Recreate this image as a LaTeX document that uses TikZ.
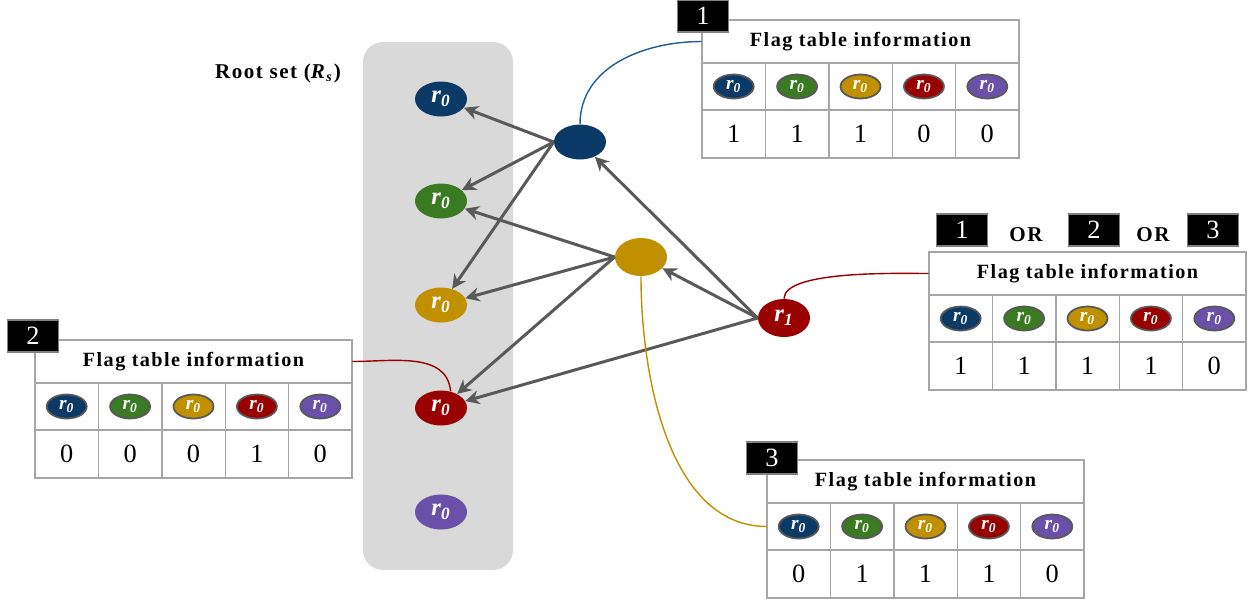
\documentclass[tikz,border=0pt]{standalone}
\usepackage{fontspec}
\setmainfont{Liberation Serif}
\newfontfamily\spacedfont[LetterSpace=7]{Liberation Serif}
\usetikzlibrary{shapes.geometric,arrows.meta}

\definecolor{rblue}{HTML}{0B3A66}
\definecolor{rgreen}{HTML}{3A7A22}
\definecolor{rgold}{HTML}{C09000}
\definecolor{rred}{HTML}{990000}
\definecolor{rpurple}{HTML}{6A50A8}
\definecolor{panelgray}{HTML}{D9D9D9}
\definecolor{arrowgray}{HTML}{595959}
\definecolor{tablegray}{HTML}{A6A6A6}
\definecolor{curveblue}{HTML}{1F5C99}

\begin{document}
\begin{tikzpicture}[x=0.02cm, y=-0.02cm,
    root/.style={ellipse, minimum width=1.04cm, minimum height=0.7cm, inner sep=0pt,
        text=white, font=\fontsize{14}{14}\selectfont\bfseries\itshape},
    mini/.style={ellipse, draw=arrowgray, line width=1pt, minimum width=0.8cm,
        minimum height=0.48cm, inner sep=0pt, text=white,
        font=\fontsize{11}{11}\selectfont\bfseries\itshape},
    edge/.style={draw=arrowgray, line width=1.7pt, -{Stealth[length=8pt,width=8pt]}},
    tag/.style={fill=black, draw=gray, line width=1pt, text=white, minimum width=1.02cm,
        minimum height=0.64cm, inner sep=0pt, font=\fontsize{15}{15}\selectfont},
    cell/.style={draw=tablegray, line width=0.8pt},
    title/.style={minimum width=6.34cm, minimum height=0.86cm, inner sep=0pt,
        font=\fontsize{11.5}{11.5}\spacedfont\bfseries},
    link/.style={line width=0.8pt}]
    \useasboundingbox (0,0) rectangle (1250,600);

    % root set panel
    \fill[panelgray, rounded corners=0.4cm] (363,42) rectangle (513,570);
    \node (rslabel) at (278,73) {\fontsize{12}{12}\spacedfont\bfseries Root set (\textit{R}\textsubscript{\textit{s}})};

    \node[root, fill=rblue] (rb) at (441,99) {r\textsubscript{0}};
    \node[root, fill=rgreen] (rg) at (441,201) {r\textsubscript{0}};
    \node[root, fill=rgold] (ry) at (441,305) {r\textsubscript{0}};
    \node[root, fill=rred] (rr) at (441,408) {r\textsubscript{0}};
    \node[root, fill=rpurple] (rp) at (441,512) {r\textsubscript{0}};

    \node[root, fill=rblue] (nb) at (580,142) {};
    \node[root, fill=rgold, minimum height=0.76cm] (ny) at (641,257) {};
    \node[root, fill=rred, minimum height=0.76cm] (r1) at (784,318) {r\textsubscript{1}};

    % references
    \draw[edge] (nb.west) -- (rb);
    \draw[edge] (nb.west) -- (rg);
    \draw[edge] (nb.west) -- (ry);
    \draw[edge] (ny.west) -- (rg);
    \draw[edge] (ny.west) -- (ry);
    \draw[edge] (ny.west) -- (rr);
    \draw[edge] (r1.west) -- (ny);
    \draw[edge] (r1.west) -- (nb);
    \draw[edge] (r1.west) -- (rr);

    % flag tables
    \foreach \tx/\ty/\tname/\va/\vb/\vc/\vd/\ve in {702/20/ft1/1/1/1/0/0, 929/252/ftr/1/1/1/1/0,
                                                   35/340/ft2/0/0/0/1/0, 767/460/ft3/0/1/1/1/0} {
        \draw[cell] (\tx,\ty) rectangle ++(317,138);
        \draw[cell] (\tx,\ty+43) -- ++(317,0);
        \draw[cell] (\tx,\ty+90) -- ++(317,0);
        \foreach \k in {1,...,4}
            \draw[cell] (\tx+\k*63.4,\ty+43) -- ++(0,95);
        \node[title] (\tname-title) at (\tx+158.5,\ty+21.5) {Flag table information};
        \coordinate (\tname-row) at (\tx,\ty+66.5);
        \foreach \k/\c/\v in {0/rblue/\va, 1/rgreen/\vb, 2/rgold/\vc, 3/rred/\vd, 4/rpurple/\ve} {
            \node[mini, fill=\c] (\tname-m\k) at (\tx+31.7+\k*63.4,\ty+66.5) {r\textsubscript{0}};
            \node[font=\fontsize{15}{15}\selectfont] (\tname-v\k) at (\tx+31.7+\k*63.4,\ty+114) {\v};
        }
    }

    % table tags
    \node[tag] (tag1) at (703,16) {1};
    \node[tag] (tag2) at (33,336) {2};
    \node[tag] (tag3) at (772,458) {3};
    \node[tag] (tagr1) at (962,230) {1};
    \node (or1) at (1026,235) {\fontsize{12}{12}\spacedfont\bfseries OR};
    \node[tag] (tagr2) at (1094,230) {2};
    \node (or2) at (1153,235) {\fontsize{12}{12}\spacedfont\bfseries OR};
    \node[tag] (tagr3) at (1213,230) {3};

    % links to tables
    \draw[link, curveblue] (nb.north) to[out=90, in=180] (ft1-title.west);
    \draw[link, rred] (rr.60) to[out=95, in=0] (ft2-title.east);
    \draw[link, rred] (r1.north) to[out=90, in=180, looseness=0.5] (ftr-title.west);
    \draw[link, rgold] (ny.south) to[out=-90, in=180, looseness=0.9] (ft3-row);
\end{tikzpicture}
\end{document}
